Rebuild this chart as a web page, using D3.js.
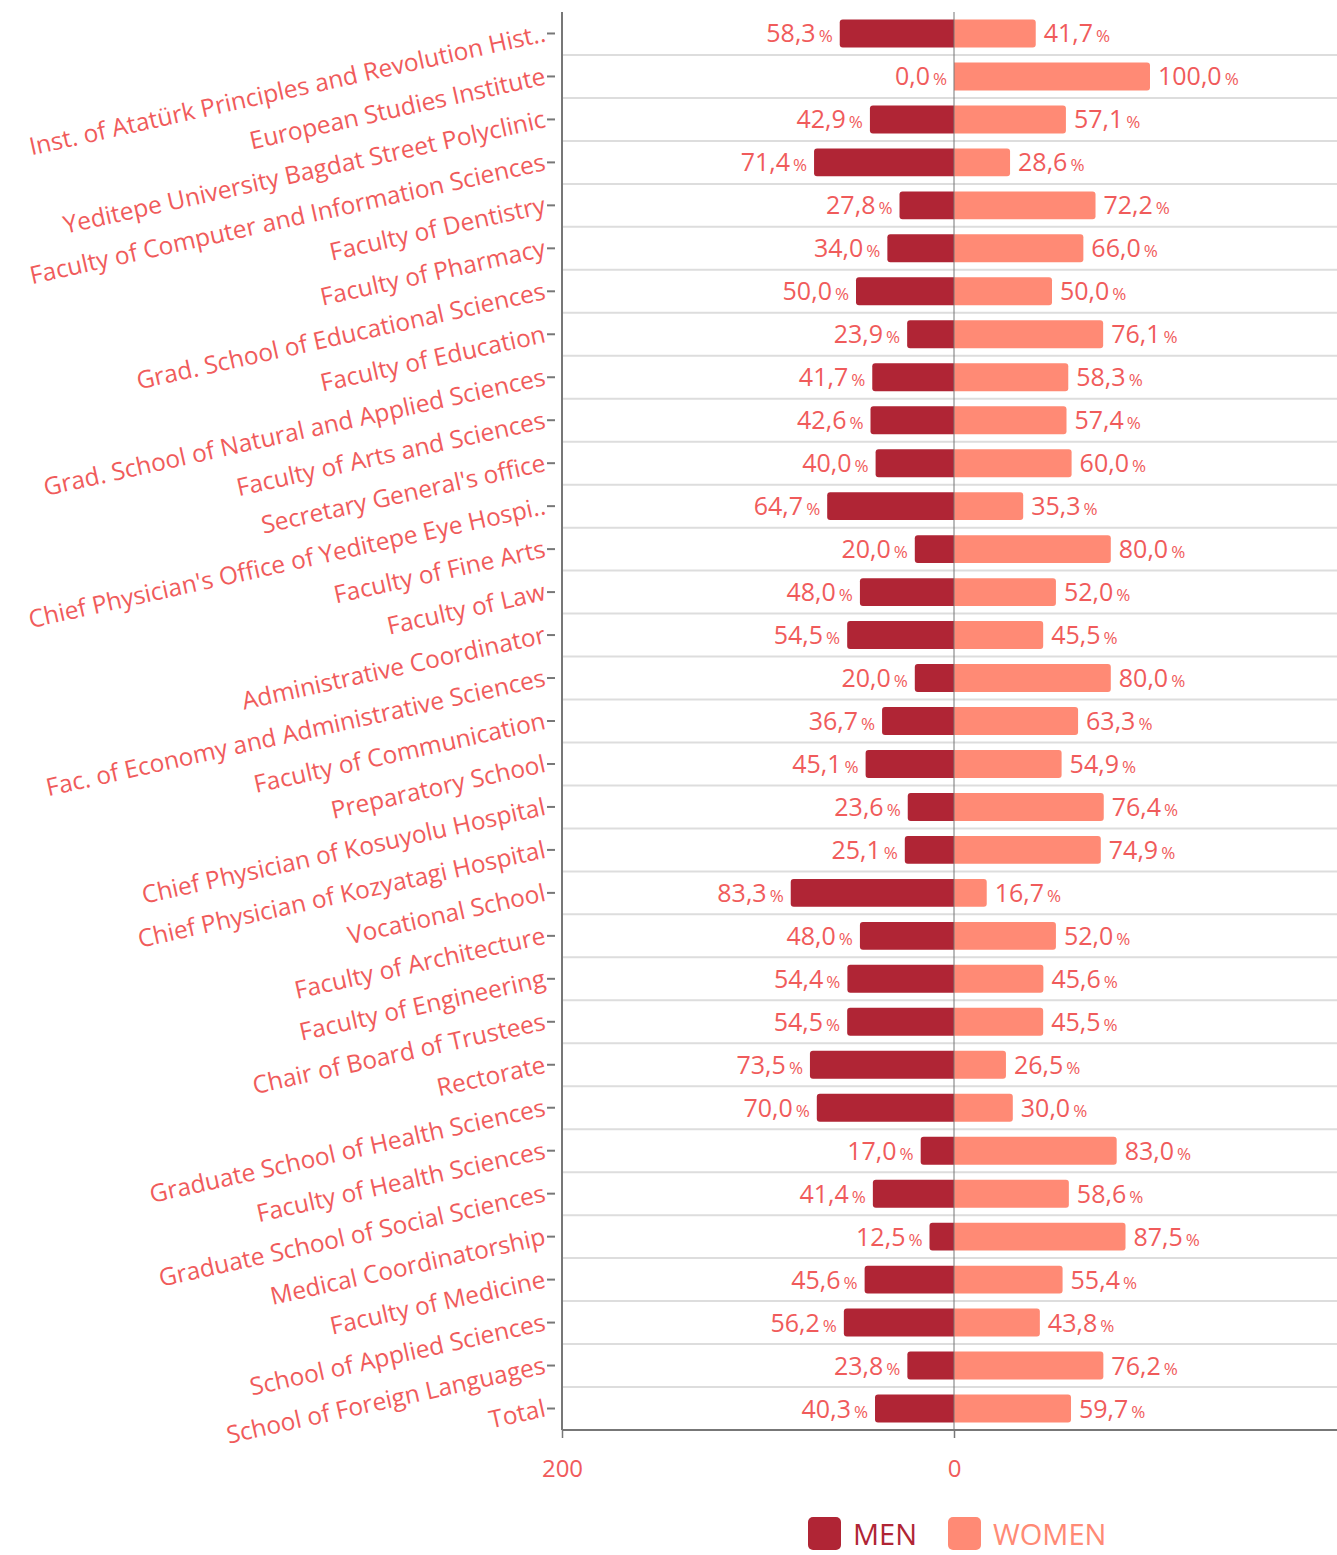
<html><head>
<meta charset="utf-8">
<title>Men / women by unit</title>
<script src="https://d3js.org/d3.v7.min.js"></script>
<style>
  body { margin: 0; background: #fff; }
  svg text { font-family: "Open Sans", sans-serif; fill: #f05b5b; }
  .gridlines line { stroke: #ddd; stroke-width: 2; }
  .y.axis .domain, .x.axis .domain { stroke: #777; stroke-width: 2; }
  .tickmark { stroke: #777; stroke-width: 2; }
</style>
</head>
<body>
<svg id="chart" width="1337" height="1555"></svg>
<script>

// data
let units = [
  "Inst. of Atatürk Principles and Revolution Hist..",
  "European Studies Institute",
  "Yeditepe University Bagdat Street Polyclinic",
  "Faculty of Computer and Information Sciences",
  "Faculty of Dentistry",
  "Faculty of Pharmacy",
  "Grad. School of Educational Sciences",
  "Faculty of Education",
  "Grad. School of Natural and Applied Sciences",
  "Faculty of Arts and Sciences",
  "Secretary General's office",
  "Chief Physician's Office of Yeditepe Eye Hospi..",
  "Faculty of Fine Arts",
  "Faculty of Law",
  "Administrative Coordinator",
  "Fac. of Economy and Administrative Sciences",
  "Faculty of Communication",
  "Preparatory School",
  "Chief Physician of Kosuyolu Hospital",
  "Chief Physician of Kozyatagi Hospital",
  "Vocational School",
  "Faculty of Architecture",
  "Faculty of Engineering",
  "Chair of Board of Trustees",
  "Rectorate",
  "Graduate School of Health Sciences",
  "Faculty of Health Sciences",
  "Graduate School of Social Sciences",
  "Medical Coordinatorship",
  "Faculty of Medicine",
  "School of Applied Sciences",
  "School of Foreign Languages",
  "Total"
];
let men = [58.3, 0.0, 42.9, 71.4, 27.8, 34.0, 50.0, 23.9, 41.7, 42.6, 40.0, 64.7, 20.0, 48.0, 54.5,
           20.0, 36.7, 45.1, 23.6, 25.1, 83.3, 48.0, 54.4, 54.5, 73.5, 70.0, 17.0, 41.4, 12.5, 45.6,
           56.2, 23.8, 40.3];
let women = [41.7, 100.0, 57.1, 28.6, 72.2, 66.0, 50.0, 76.1, 58.3, 57.4, 60.0, 35.3, 80.0, 52.0, 45.5,
             80.0, 63.3, 54.9, 76.4, 74.9, 16.7, 52.0, 45.6, 45.5, 26.5, 30.0, 83.0, 58.6, 87.5, 55.4,
             43.8, 76.2, 59.7];
let xTicks = [-200, 0];
let seriesNames = ["MEN", "WOMEN"];
let seriesColors = ["#b02535", "#ff8a75"];

let rows = units.map((u, i) => ({ unit: u, men: men[i], women: women[i] }));

// housekeeping
let svg = d3.select("svg#chart");
let width = +svg.attr("width");
let margin = { top: 12, left: 562 };
let plotBottom = 1430;

let x = d3.scaleLinear().domain([-200, 200]).range([margin.left, margin.left + 784]);
let y = d3.scaleBand().domain(units).range([margin.top, plotBottom])
  .paddingInner(0.35).paddingOuter(0.175);

// gridlines between rows
let grid = svg.append("g").attr("class", "gridlines");
grid.selectAll("line").data(units.slice(1)).join("line")
  .attr("x1", margin.left).attr("x2", width)
  .attr("y1", d => y(d) - y.step() * y.paddingInner() / 2)
  .attr("y2", d => y(d) - y.step() * y.paddingInner() / 2);

// bar with rounded outer end only
function halfRound(x0, x1, y0, h, r, side) {
  let w = x1 - x0;
  if (w <= 0) return "";
  r = Math.min(r, w / 2);
  if (side == "left") {
    return "M" + x1 + "," + y0 + "H" + (x0 + r) + "Q" + x0 + "," + y0 + " " + x0 + "," + (y0 + r) +
      "V" + (y0 + h - r) + "Q" + x0 + "," + (y0 + h) + " " + (x0 + r) + "," + (y0 + h) + "H" + x1 + "Z";
  }
  return "M" + x0 + "," + y0 + "H" + (x1 - r) + "Q" + x1 + "," + y0 + " " + x1 + "," + (y0 + r) +
    "V" + (y0 + h - r) + "Q" + x1 + "," + (y0 + h) + " " + (x1 - r) + "," + (y0 + h) + "H" + x0 + "Z";
}

let bars = svg.append("g");
bars.selectAll("path.men").data(rows).join("path")
  .attr("class", "men")
  .attr("fill", seriesColors[0])
  .attr("d", d => halfRound(x(-d.men), x(0), y(d.unit), y.bandwidth(), 3, "left"));
bars.selectAll("path.women").data(rows).join("path")
  .attr("class", "women")
  .attr("fill", seriesColors[1])
  .attr("d", d => halfRound(x(0), x(d.women), y(d.unit), y.bandwidth(), 3, "right"));

// value labels, "%" a bit smaller
let fmt = v => v.toFixed(1).replace(".", ",");
function pctText(t, v) {
  t.append("tspan").text(fmt(v));
  t.append("tspan").attr("font-size", 17).attr("dx", 3).text("%");
}
let labels = svg.append("g").attr("font-size", 25);
labels.selectAll("text.ml").data(rows).join("text")
  .attr("class", "ml")
  .attr("x", d => x(-d.men) - 7)
  .attr("y", d => y(d.unit) + y.bandwidth() / 2)
  .attr("dy", "0.36em")
  .attr("text-anchor", "end")
  .each(function (d) { pctText(d3.select(this), d.men); });
labels.selectAll("text.wl").data(rows).join("text")
  .attr("class", "wl")
  .attr("x", d => x(d.women) + 8)
  .attr("y", d => y(d.unit) + y.bandwidth() / 2)
  .attr("dy", "0.36em")
  .each(function (d) { pctText(d3.select(this), d.women); });

// zero line
svg.append("line")
  .attr("x1", x(0)).attr("x2", x(0))
  .attr("y1", margin.top).attr("y2", plotBottom)
  .attr("stroke", "#777").attr("stroke-width", 1);

// y axis, rotated labels
let yAxis = d3.axisLeft(y).tickSize(0).tickPadding(17);
let yG = svg.append("g")
  .attr("class", "y axis")
  .attr("transform", "translate(" + margin.left + ",0)")
  .call(yAxis);
yG.selectAll(".tick text")
  .attr("font-size", 24.5)
  .attr("fill", null)
  .attr("transform", "rotate(-12.5,-17,0)");
yG.selectAll(".tick").append("line")
  .attr("class", "tickmark")
  .attr("x1", -15).attr("x2", -7);
yG.select(".domain").attr("d", "M0," + margin.top + "V" + plotBottom);

// x axis
let xAxis = d3.axisBottom(x).tickValues(xTicks).tickSize(8).tickPadding(22)
  .tickFormat(d => Math.abs(d));
let xG = svg.append("g")
  .attr("class", "x axis")
  .attr("transform", "translate(0," + plotBottom + ")")
  .call(xAxis);
xG.select(".domain").attr("d", "M" + margin.left + ",0H" + width);
xG.selectAll(".tick line").attr("stroke", "#777").attr("stroke-width", 1.5);
xG.selectAll(".tick text").attr("font-size", 24).attr("fill", null);

// legend
let legend = svg.append("g");
let legendX = [808, 948];
seriesNames.forEach((s, i) => {
  legend.append("rect")
    .attr("x", legendX[i]).attr("y", 1517)
    .attr("width", 33).attr("height", 33).attr("rx", 5)
    .attr("fill", seriesColors[i]);
  legend.append("text")
    .attr("x", legendX[i] + 45).attr("y", 1545)
    .attr("font-size", 29)
    .style("fill", seriesColors[i])
    .text(s);
});

</script>
</body>
</html>
